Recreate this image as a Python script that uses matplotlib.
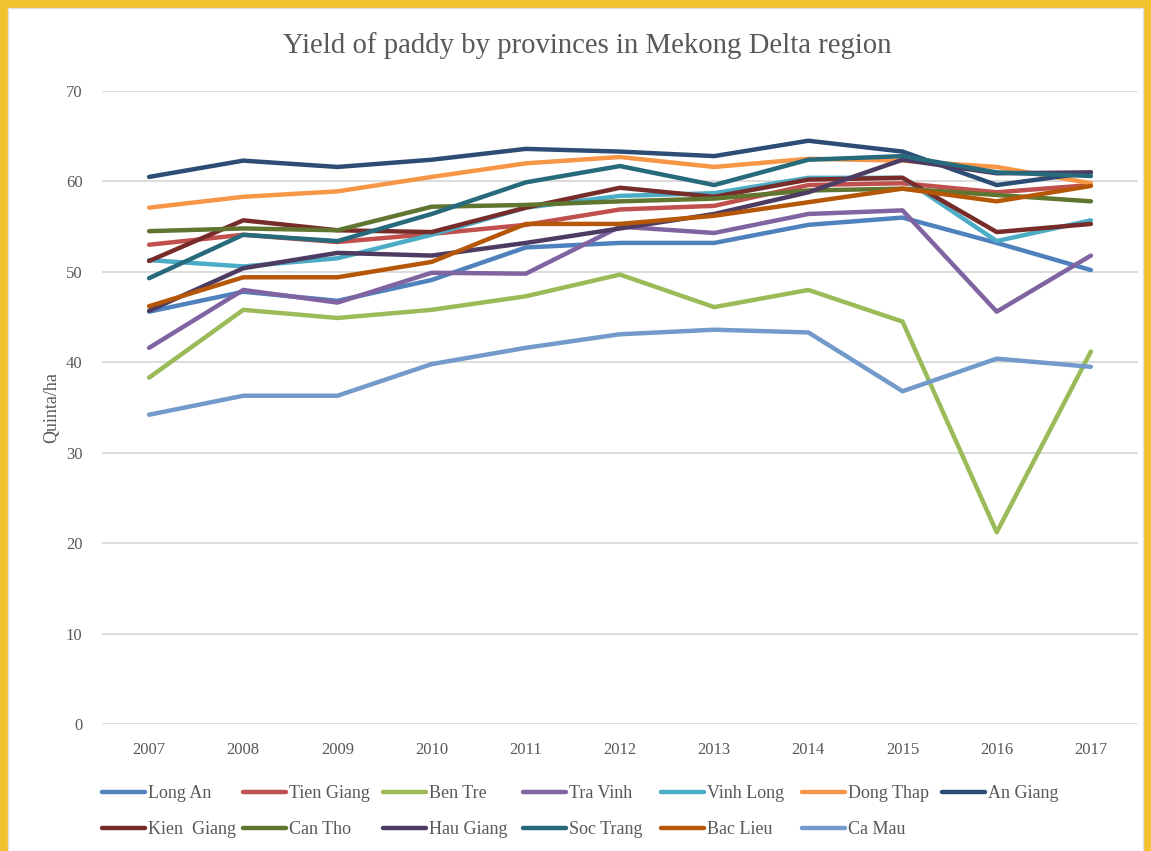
import matplotlib
matplotlib.use("Agg")
import matplotlib.pyplot as plt
from matplotlib.patches import Rectangle

years = ["2007", "2008", "2009", "2010", "2011", "2012", "2013", "2014", "2015", "2016", "2017"]

long_an    = [45.6, 47.8, 46.8, 49.1, 52.7, 53.2, 53.2, 55.2, 56.0, 53.2, 50.2]
tien_giang = [53.0, 54.1, 53.3, 54.2, 55.2, 56.9, 57.3, 59.6, 59.8, 58.8, 59.6]
ben_tre    = [38.3, 45.8, 44.9, 45.8, 47.3, 49.7, 46.1, 48.0, 44.5, 21.2, 41.2]
tra_vinh   = [41.6, 48.0, 46.6, 49.9, 49.8, 55.0, 54.3, 56.4, 56.8, 45.6, 51.8]
vinh_long  = [51.3, 50.6, 51.5, 54.1, 57.1, 58.4, 58.7, 60.4, 60.4, 53.4, 55.7]
dong_thap  = [57.1, 58.3, 58.9, 60.5, 62.0, 62.7, 61.6, 62.5, 62.3, 61.6, 59.8]
an_giang   = [60.5, 62.3, 61.6, 62.4, 63.6, 63.3, 62.8, 64.5, 63.3, 59.6, 61.0]
kien_giang = [51.2, 55.7, 54.6, 54.4, 57.1, 59.3, 58.3, 60.2, 60.4, 54.4, 55.3]
can_tho    = [54.5, 54.8, 54.6, 57.2, 57.4, 57.8, 58.1, 59.0, 59.2, 58.5, 57.8]
hau_giang  = [45.7, 50.4, 52.1, 51.8, 53.2, 54.8, 56.4, 58.8, 62.4, 60.9, 61.0]
soc_trang  = [49.3, 54.1, 53.4, 56.4, 59.9, 61.7, 59.6, 62.4, 62.8, 61.0, 60.6]
bac_lieu   = [46.2, 49.4, 49.4, 51.1, 55.3, 55.3, 56.2, 57.7, 59.2, 57.8, 59.5]
ca_mau     = [34.2, 36.3, 36.3, 39.8, 41.6, 43.1, 43.6, 43.3, 36.8, 40.4, 39.5]

names = ["Long An", "Tien Giang", "Ben Tre", "Tra Vinh", "Vinh Long", "Dong Thap", "An Giang",
         "Kien  Giang", "Can Tho", "Hau Giang", "Soc Trang", "Bac Lieu", "Ca Mau"]
series = [long_an, tien_giang, ben_tre, tra_vinh, vinh_long, dong_thap, an_giang,
          kien_giang, can_tho, hau_giang, soc_trang, bac_lieu, ca_mau]
colors = ["#4F81BD", "#C0504D", "#9BBB59", "#8064A2", "#4BACC6", "#F79646", "#2C4D75",
          "#772C2A", "#5F7530", "#4D3B62", "#276A7C", "#B65708", "#729ACA"]

plt.rcParams['font.family'] = ['Liberation Serif', 'DejaVu Serif']
text_col = "#595959"
W, H = 1151, 851

fig = plt.figure(figsize=(W / 100, H / 100), dpi=100)
fig.patch.set_facecolor("#F2C230")
# white card inside the yellow frame
card = Rectangle((8 / W, 0), 1 - 16 / W, 1 - 8 / H, transform=fig.transFigure,
                 facecolor="white", edgecolor="#E0E0E0", lw=1, zorder=-5)
fig.patches.append(card)

ax = fig.add_axes([102 / W, 127 / H, 1036 / W, 633 / H])
ax.set_facecolor("none")

x = list(range(len(years)))
lines = []
for vals, name, c in zip(series, names, colors):
    ln, = ax.plot(x, vals, color=c, lw=3.2, label=name, solid_capstyle="round", solid_joinstyle="round")
    lines.append(ln)

ax.set_xlim(-0.5, len(years) - 0.5)
ax.set_ylim(0, 70)
ax.set_yticks(range(0, 71, 10))
ax.set_xticks(x)
ax.set_xticklabels(years)
ax.grid(axis="y", color="#D9D9D9", lw=1.3)
ax.set_axisbelow(True)
for s in ax.spines.values():
    s.set_visible(False)
ax.tick_params(length=0, labelsize=12, colors=text_col)
ax.tick_params(axis="y", pad=14)
ax.tick_params(axis="x", pad=13)
ax.set_ylabel("Quinta/ha", fontsize=13, color=text_col, labelpad=4)

fig.text(587 / W, 1 - 46 / H, "Yield of paddy by provinces in Mekong Delta region",
         ha="center", va="center", fontsize=20.7, color=text_col)

# legend: two rows, equal-width columns like the Excel original
ncol = 7
col_x = [102, 243, 383, 523, 661, 802, 942]
for j in range(ncol):
    idx = [i for i in (j, j + ncol) if i < len(lines)]
    fig.legend(handles=[lines[i] for i in idx], loc="upper left",
               bbox_to_anchor=(col_x[j] / W, 1 - 785 / H), frameon=False,
               fontsize=13, handlelength=2.4, handletextpad=0.15, borderpad=0,
               borderaxespad=0, labelcolor=text_col, labelspacing=1.05)

fig.savefig("out.png", dpi=100, facecolor=fig.get_facecolor())
